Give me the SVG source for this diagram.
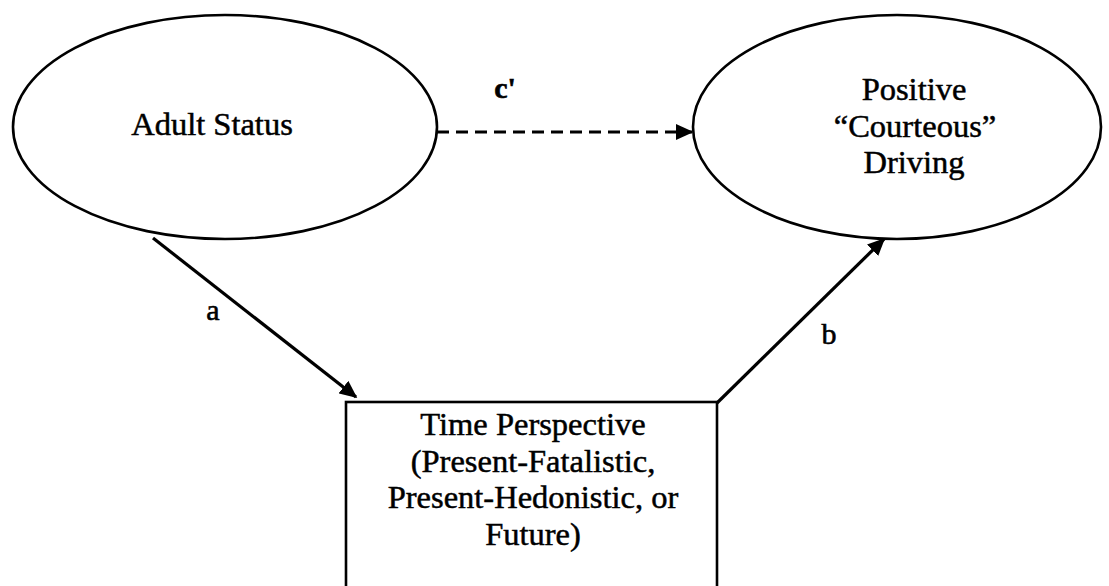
<svg xmlns="http://www.w3.org/2000/svg" width="1109" height="586" viewBox="0 0 1109 586">
<defs>
<marker id="ah" markerWidth="5.5" markerHeight="5" refX="5" refY="2.5" orient="auto" markerUnits="strokeWidth">
<path d="M0,0 L5.5,2.5 L0,5 Z" fill="#000"/>
</marker>
<style>
.shape{fill:#fff;stroke:#000;stroke-width:2.6}
.t{font-family:"Liberation Serif","Times New Roman",serif;font-size:32.5px;fill:#000;stroke:#000;stroke-width:0.5;text-anchor:middle}
.lbl{font-family:"Liberation Serif","Times New Roman",serif;font-size:30px;fill:#000;stroke:#000;stroke-width:0.6;text-anchor:middle}
.conn{stroke:#000;stroke-width:3.2;fill:none}
</style>
</defs>
<rect width="1109" height="586" fill="#fff"/>
<g id="adult-status">
<ellipse class="shape" cx="225" cy="127" rx="212" ry="112"/>
<text class="t" x="212" y="135">Adult Status</text>
</g>
<g id="positive-driving">
<ellipse class="shape" cx="897" cy="127" rx="204" ry="112"/>
<text class="t" x="914" y="100">Positive</text>
<text class="t" x="915" y="137">“Courteous”</text>
<text class="t" x="914" y="173">Driving</text>
</g>
<g id="time-perspective">
<rect class="shape" x="346" y="402" width="371" height="200"/>
<text class="t" x="533" y="435">Time Perspective</text>
<text class="t" x="533" y="472">(Present-Fatalistic,</text>
<text class="t" x="533" y="508">Present-Hedonistic, or</text>
<text class="t" x="533" y="545">Future)</text>
</g>
<g id="connectors">
<line class="conn" x1="437" y1="132" x2="692" y2="132" stroke-dasharray="12,7" marker-end="url(#ah)"/>
<line class="conn" x1="153" y1="238" x2="356" y2="397" marker-end="url(#ah)"/>
<line class="conn" x1="717" y1="403" x2="884" y2="239" marker-end="url(#ah)"/>
<text class="lbl" x="505" y="98" font-weight="bold">c'</text>
<text class="lbl" x="213" y="320">a</text>
<text class="lbl" x="829" y="344">b</text>
</g>
</svg>
